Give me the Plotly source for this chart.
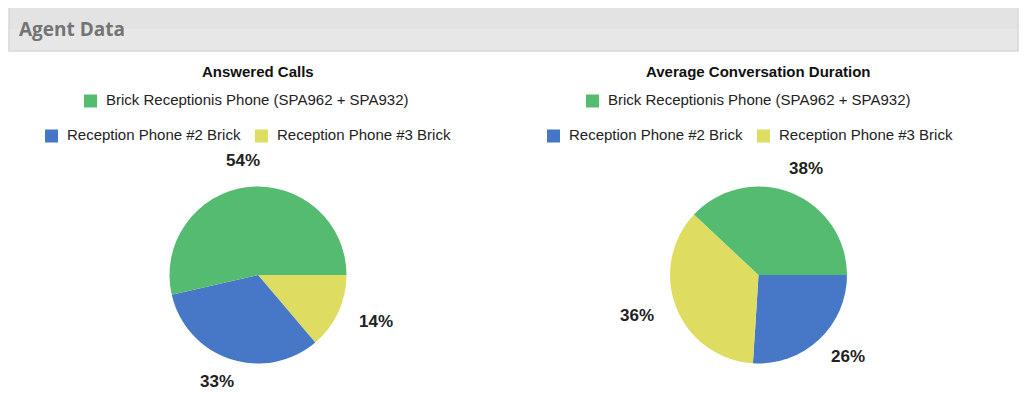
import math
import plotly.graph_objects as go

# page body has an 8px margin, so the figure starts at (8, 8) in the window
OFF = 8
W, H = 1028 - OFF, 398 - OFF

# ---- data ----
series_names = ["Brick Receptionis Phone (SPA962 + SPA932)",
                "Reception Phone #2 Brick",
                "Reception Phone #3 Brick"]
answered_calls = [53.6, 32.6, 13.8]
avg_duration = [38.0, 26.0, 36.0]
chart_titles = ["Answered Calls", "Average Conversation Duration"]
header_title = "Agent Data"

colors = ["#55bb71", "#4678c7", "#dedd62"]
FONT = "Liberation Sans"


def px(x):
    return (x - OFF) / W


def py(y):
    return 1 - (y - OFF) / H


fig = go.Figure()

pies = [
    dict(values=answered_calls, cx=258.0, cy=275.0, r=88.5),
    dict(values=avg_duration, cx=758.5, cy=275.0, r=88.5),
]

annotations = []
shapes = []

# header bar
shapes.append(dict(type="rect", xref="paper", yref="paper",
                   x0=px(9), x1=px(1018), y0=py(51), y1=py(7),
                   fillcolor="#e7e7e7", line=dict(color="#d7d7d7", width=1.5),
                   layer="below"))
shapes.append(dict(type="rect", xref="paper", yref="paper",
                   x0=px(10), x1=px(1017), y0=py(29), y1=py(8),
                   fillcolor="#e3e3e3", line=dict(width=0), layer="below"))
annotations.append(dict(text=header_title, x=px(17), y=py(29), xref="paper", yref="paper",
                        xanchor="left", yanchor="middle", showarrow=False,
                        font=dict(family="Open Sans", size=19, color="#747474", weight="bold")))

for i, p in enumerate(pies):
    cx, cy, r = p["cx"], p["cy"], p["r"]
    vals = p["values"]
    # largest slice starts at 3 o'clock and slices run counterclockwise (descending order);
    # plotly draws clockwise, so feed slices in ascending order
    asc = sorted(range(len(vals)), key=lambda k: vals[k])
    fig.add_trace(go.Pie(
        labels=[series_names[k] for k in asc], values=[vals[k] for k in asc],
        marker=dict(colors=[colors[k] for k in asc], line=dict(width=0)),
        sort=False, direction="clockwise", rotation=90,
        textinfo="none", hoverinfo="label+percent",
        showlegend=False,
        domain=dict(x=[px(cx - r), px(cx + r)], y=[py(cy + r), py(cy - r)]),
    ))
    # percentage labels computed from values (descending, counterclockwise from 3 o'clock)
    total = sum(vals)
    start = 0.0
    for k in reversed(asc):
        frac = vals[k] / total
        mid = (start + frac / 2) * 2 * math.pi
        start += frac
        c, s = math.cos(mid), math.sin(mid)
        lx = cx + 1.28 * r * c + 17 * c
        ly = cy - 1.28 * r * s - 1.5
        annotations.append(dict(text=f"{round(frac * 100)}%", x=px(lx), y=py(ly),
                                xref="paper", yref="paper", xanchor="center", yanchor="middle",
                                showarrow=False,
                                font=dict(family=FONT, size=17, color="#222222", weight="bold")))
    # chart title
    annotations.append(dict(text=chart_titles[i], x=px(cx), y=py(72), xref="paper", yref="paper",
                            xanchor="center", yanchor="middle", showarrow=False,
                            font=dict(family=FONT, size=15, color="#111111", weight="bold")))

# legends (square + text) for each chart
legend_rows = [
    # (square_x, text_x, y_center, series index) in pixels
    [(84, 104, 101, 0), (45, 65, 136, 1), (255, 275, 136, 2)],
    [(586, 606, 101, 0), (547, 567, 136, 1), (757, 777, 136, 2)],
]
for rows in legend_rows:
    for sx, tx, yc, k in rows:
        shapes.append(dict(type="rect", xref="paper", yref="paper",
                           x0=px(sx), x1=px(sx + 13), y0=py(yc + 6.5), y1=py(yc - 6.5),
                           fillcolor=colors[k], line=dict(width=0)))
        annotations.append(dict(text=series_names[k], x=px(tx), y=py(yc - 1.5), xref="paper", yref="paper",
                                xanchor="left", yanchor="middle", showarrow=False,
                                font=dict(family=FONT, size=15, color="#222222")))

fig.update_layout(
    width=W, height=H,
    margin=dict(l=0, r=0, t=0, b=0),
    paper_bgcolor="white", plot_bgcolor="white",
    shapes=shapes, annotations=annotations,
)

fig.write_html("out.html")
